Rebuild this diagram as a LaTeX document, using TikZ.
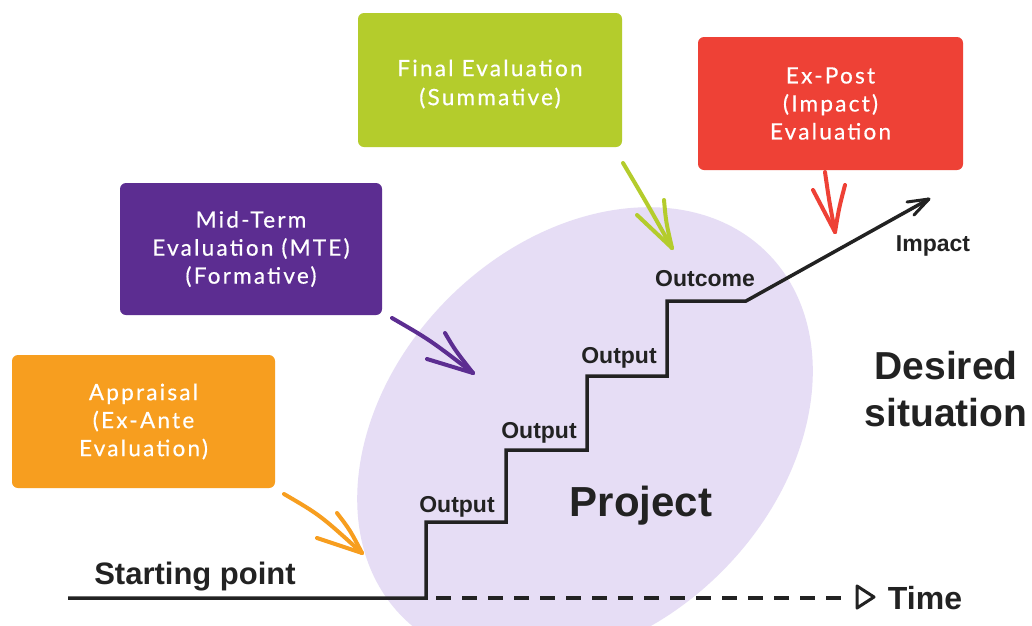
\documentclass[tikz,border=0pt]{standalone}
\usepackage{fontspec}
\setmainfont{Liberation Sans}
\newfontfamily\boxfont[LetterSpace=10, FakeBold=0.5]{Lato}
\usetikzlibrary{arrows.meta}
\definecolor{cOrange}{HTML}{F79E1F}
\definecolor{cPurple}{HTML}{5C2D91}
\definecolor{cGreen}{HTML}{B4CC2C}
\definecolor{cRed}{HTML}{EE4136}
\definecolor{cLav}{HTML}{E6DDF5}
\definecolor{cInk}{HTML}{222222}
\tikzset{
  evalbox/.style={rounded corners=6pt, minimum width=#1, inner sep=0pt, text=white, align=center,
     font=\boxfont\fontsize{22.5}{28}\selectfont},
  handarrow/.style={line width=4pt, line cap=round, line join=round},
  lbl/.style={text=cInk, font=\bfseries\fontsize{23}{26}\selectfont, inner sep=0pt},
  stair/.style={line width=3.5pt, line join=miter, cInk},
}
\begin{document}
\begin{tikzpicture}[x=1pt,y=-1pt]
\useasboundingbox (0,0) rectangle (1032,625);
\clip (0,0) rectangle (1032,625);
\fill[white] (0,0) rectangle (1032,625);
% project blob
\coordinate (pc) at (585,435);
\fill[cLav, rotate around={45:(pc)}] (pc) ellipse [x radius=257.7pt, y radius=193.3pt];
% boxes
\node[evalbox=263pt, minimum height=133pt, fill=cOrange] (appr) at (143.5,421.5) {Appraisal\\(Ex-Ante\\Evaluation)};
\node[evalbox=262pt, minimum height=132pt, fill=cPurple] (mte) at (251,249) {Mid-Term\\Evaluation (MTE)\\(Formative)};
\node[evalbox=264pt, minimum height=134pt, fill=cGreen] (fin) at (490,80) {};
\node[text=white, align=center, font=\boxfont\fontsize{22.5}{29}\selectfont] (fintxt) at (490,84) {Final Evaluation\\(Summative)};
\node[evalbox=265pt, minimum height=133pt, fill=cRed] (expost) at (830.5,103.5) {Ex-Post\\(Impact)\\Evaluation};
% staircase
\coordinate (s0) at (68,598);
\coordinate (s1) at (426,598);
\coordinate (tip) at (929,199);
\draw[stair] (s0) -- (s1) -- (426,522) -- (506,522) -- (506,450) -- (587,450) -- (587,376)
  -- (667,376) -- (667,301) -- (746,301) -- (tip);
\draw[line width=3pt, line cap=round, line join=round, cInk] (907,202) -- (tip) -- (914,215);
% time axis
\coordinate (t1) at (848,598);
\draw[line width=3.5pt, cInk, dash pattern=on 15pt off 11pt] ([xshift=10pt]s1) -- (t1);
\draw[line width=3pt, cInk, line join=round] (857,586) -- (874,597) -- (857,608) -- cycle;
% hand arrows
\draw[handarrow, cOrange] (284,494) .. controls (320,515) .. (362,553);
\draw[handarrow, cOrange] (317,538) -- (362,553);
\draw[handarrow, cOrange] (337,513) .. controls (350,530) .. (362,553);
\draw[handarrow, cPurple] (392,318) .. controls (430,340) .. (473,373);
\draw[handarrow, cPurple] (427,359) -- (473,373);
\draw[handarrow, cPurple] (445,333) .. controls (455,350) .. (473,373);
\draw[handarrow, cGreen] (623,163) .. controls (645,200) .. (672,248);
\draw[handarrow, cGreen] (637,215) -- (672,248);
\draw[handarrow, cGreen] (664,200) .. controls (666,222) .. (672,248);
\draw[handarrow, cRed] (825,172) .. controls (829,200) .. (835,232);
\draw[handarrow, cRed] (813,190) -- (835,232);
\draw[handarrow, cRed] (845,185) .. controls (839,208) .. (835,232);
% labels
\node[lbl, font=\bfseries\fontsize{31}{34}\selectfont] (start) at (195,577) {Starting point};
\node[lbl] (o1) at (457,507) {Output};
\node[lbl] (o2) at (539,433) {Output};
\node[lbl] (o3) at (619,358) {Output};
\node[lbl] (oc) at (705,279) {Outcome};
\node[lbl] (imp) at (933,246) {Impact};
\node[lbl, font=\bfseries\fontsize{42}{46}\selectfont] (proj) at (641,506) {Project};
\node[lbl, align=center, font=\bfseries\fontsize{39}{47}\selectfont] (des) at (946,389) {Desired\\situation};
\node[lbl, font=\bfseries\fontsize{32}{34}\selectfont] (time) at (925,598) {Time};
\end{tikzpicture}
\end{document}
